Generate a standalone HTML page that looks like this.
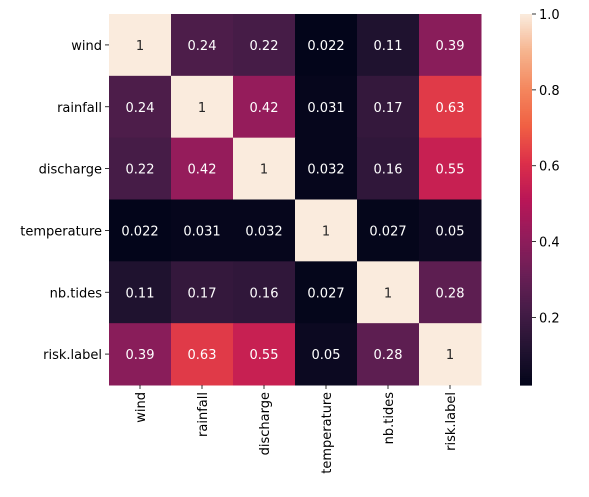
<!DOCTYPE html>
<html><head><meta charset="utf-8"><style>
body{margin:0;background:#fff;font-family:"Liberation Sans","DejaVu Sans",sans-serif;}
svg text{font-family:"DejaVu Sans","Liberation Sans",sans-serif;font-size:13px;}
</style></head><body>
<svg id="chart" width="589" height="492"></svg>
<script>
const labels=["wind","rainfall","discharge","temperature","nb.tides","risk.label"];
const row0=[1,0.24,0.22,0.022,0.11,0.39];
const row1=[0.24,1,0.42,0.031,0.17,0.63];
const row2=[0.22,0.42,1,0.032,0.16,0.55];
const row3=[0.022,0.031,0.032,1,0.027,0.05];
const row4=[0.11,0.17,0.16,0.027,1,0.28];
const row5=[0.39,0.63,0.55,0.05,0.28,1];
const matrix=[row0,row1,row2,row3,row4,row5];
const cbTicks=[0.2,0.4,0.6,0.8,1.0];
const vmin=0.022,vmax=1;
const stops=["#03051A","#221331","#451C47","#6A1F56","#921C5B","#B91657","#DC2F4A","#F06043","#F4875E","#F6B48E","#FAEBDD"];
function hex(h){return [1,3,5].map(i=>parseInt(h.substr(i,2),16));}
function cmap(v){let t=Math.max(0,Math.min(1,(v-vmin)/(vmax-vmin)))*10;let i=Math.min(9,Math.floor(t)),f=t-i;
const a=hex(stops[i]),b=hex(stops[i+1]);return a.map((c,k)=>Math.round(c+(b[c===c?k:k]-c)*f));}
const L=109,T=14,W=372,H=371,n=labels.length,cw=W/n,ch=H/n;
const xs=i=>L+i*cw, ys=i=>T+i*ch;
const svg=document.getElementById('chart');const NS="http://www.w3.org/2000/svg";
function mk(tag,attrs,parent){const e=document.createElementNS(NS,tag);for(const k in attrs)e.setAttribute(k,attrs[k]);(parent||svg).appendChild(e);return e;}
matrix.forEach((row,r)=>row.forEach((v,c)=>{
 const col=cmap(v);
 const rect=mk('rect',{x:xs(c),y:ys(r),width:cw+0.5,height:ch+0.5,fill:`rgb(${col})`});
 
 
 const lum=(0.2126*col[0]+0.7152*col[1]+0.0722*col[2])/255;
 const t=mk('text',{x:xs(c)+cw/2,y:ys(r)+ch/2+5,'text-anchor':'middle',fill:lum>0.408?'#262626':'#fff'});
 t.textContent=String(v);
 
 
}));
labels.forEach((lab,i)=>{
 mk('line',{x1:L-4,x2:L,y1:ys(i)+ch/2,y2:ys(i)+ch/2,stroke:'#000','stroke-width':0.8});
 const t=mk('text',{x:L-7,y:ys(i)+ch/2+5,'text-anchor':'end',fill:'#000'});t.textContent=lab;
 
 
 const cx=xs(i)+cw/2;
 mk('line',{x1:cx,x2:cx,y1:T+H,y2:T+H+4,stroke:'#000','stroke-width':0.8});
 const tx=mk('text',{x:0,y:0,'text-anchor':'end',fill:'#000',transform:`translate(${cx+5},${T+H+7}) rotate(-90)`});tx.textContent=lab;
 
 
});
// colorbar
const CX=520,CW=12,cy=v=>T+H-(v-vmin)/(vmax-vmin)*H;
const g=mk('g',{});
for(let k=0;k<200;k++){const v0=vmin+(vmax-vmin)*k/200,v1=vmin+(vmax-vmin)*(k+1)/200;
 mk('rect',{x:CX,y:cy(v1),width:CW,height:cy(v0)-cy(v1)+0.6,fill:`rgb(${cmap((v0+v1)/2)})`},g);}
cbTicks.forEach(v=>{const y=cy(v);
 mk('line',{x1:CX+CW,x2:CX+CW+4,y1:y,y2:y,stroke:'#000','stroke-width':0.8});
 const t=mk('text',{x:CX+CW+7,y:y+5,fill:'#000'});t.textContent=v.toFixed(1);
 
 
});
</script>
</body></html>
